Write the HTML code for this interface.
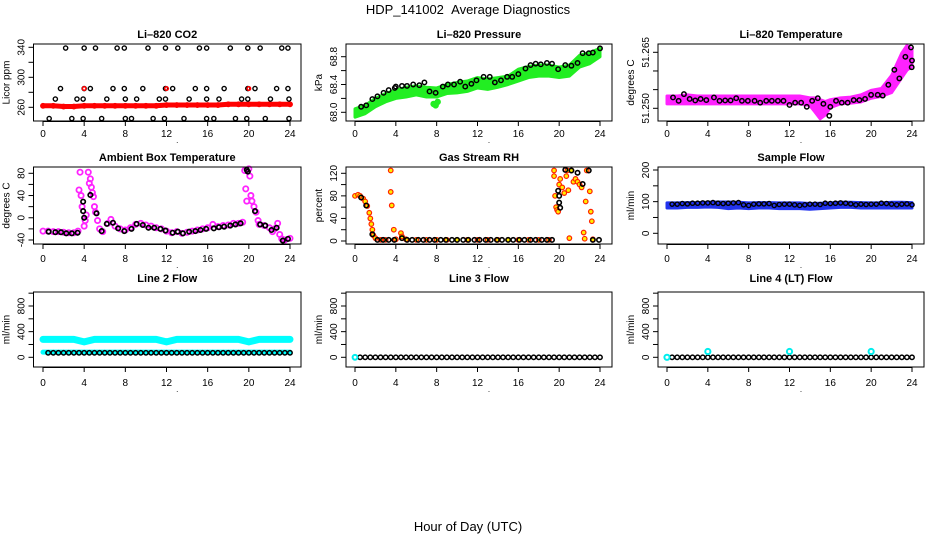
<!DOCTYPE html>
<html><head><meta charset="utf-8"><style>
html,body{margin:0;padding:0;background:#fff;}
svg{display:block;font-family:"Liberation Sans",Arial,sans-serif;}
</style></head><body>
<svg id="chart" width="936" height="540" viewBox="0 0 936 540">
<text x="468" y="14" text-anchor="middle" font-size="13">HDP_141002 &#160;Average Diagnostics</text>
<text x="468" y="531" text-anchor="middle" font-size="13">Hour of Day (UTC)</text>
</svg>
<script>
// ---------- data ----------
const xTicks=[0,4,8,12,16,20,24];
const hours48=[0.5,1,1.5,2,2.5,3,3.5,4,4.5,5,5.5,6,6.5,7,7.5,8,8.5,9,9.5,10,10.5,11,11.5,12,12.5,13,13.5,14,14.5,15,15.5,16,16.5,17,17.5,18,18.5,19,19.5,20,20.5,21,21.5,22,22.5,23,23.5,24];
const hours25=[0,1,2,3,4,5,6,7,8,9,10,11,12,13,14,15,16,17,18,19,20,21,22,23,24];
// CO2
const co2Red=[262,262,261,261,262,262,262,262,262,262,262,262,263,263,263,263,263,263,264,264,264,264,264,264,264];
const co2RedExtra=[[4,285],[12,285],[20,285]];
const co2Black=[[2.2,339],[4,339],[5.1,339],[7.2,339],[7.9,339],[10.2,339],[11.9,339],[13.1,339],[15.2,339],[15.9,339],[18.2,339],[19.9,339],[21.1,339],[23.2,339],[23.8,339],
[1.7,285],[4,285],[4.6,285],[6.8,285],[7.9,285],[9.7,285],[11.9,285],[12.6,285],[14.8,285],[15.9,285],[17.6,285],[19.9,285],[20.6,285],[22.7,285],[23.8,285],
[1.2,271],[3.3,271],[3.9,271],[6.2,271],[8,271],[9.1,271],[11.3,271],[11.9,271],[14.2,271],[15.9,271],[17.1,271],[19.3,271],[19.9,271],[22.1,271],[23.9,271],
[0.6,245],[2.8,245],[3.9,245],[5.7,245],[8,245],[8.6,245],[10.7,245],[11.8,245],[13.7,245],[15.9,245],[16.6,245],[18.7,245],[19.8,245],[21.6,245],[23.9,245]];
// Pressure
const presLo=[67.93,67.98,68.08,68.15,68.2,68.22,68.25,68.22,68.22,68.27,68.28,68.3,68.35,68.33,68.36,68.4,68.45,68.5,68.52,68.52,68.5,68.52,68.65,68.7,68.8];
const presHi=[68.05,68.1,68.2,68.27,68.32,68.36,68.38,68.36,68.35,68.4,68.43,68.45,68.5,68.48,68.5,68.52,68.62,68.66,68.68,68.68,68.65,68.68,68.82,68.86,68.92];
const presDip=[[7.7,68.12],[7.9,68.1],[8.1,68.15]];
const presBlack=[[0.6,68.08],[1.1,68.1],[1.7,68.19],[2.2,68.23],[2.8,68.28],[3.3,68.32],[3.9,68.35],[4,68.37],[4.6,68.38],[5.1,68.38],[5.7,68.4],[6.3,68.39],[6.8,68.43],[7.3,68.3],[7.9,68.28],[8.6,68.37],[9.1,68.4],[9.7,68.4],[10.3,68.44],[10.8,68.37],[11.4,68.41],[11.9,68.46],[12.6,68.51],[13.2,68.51],[13.7,68.43],[14.3,68.46],[14.9,68.51],[15.4,68.51],[16,68.55],[16.7,68.63],[17.2,68.68],[17.7,68.7],[18.2,68.69],[18.8,68.71],[19.3,68.7],[19.9,68.62],[20.6,68.68],[21.2,68.67],[21.8,68.71],[22.3,68.85],[22.9,68.85],[23.3,68.86],[24,68.92]];
// Li-820 temperature
const tHours=[0,1,2,3,4,5,6,7,8,9,10,11,12,13,14,14.5,15,15.5,16,17,18,19,20,21,22,23,23.5,24];
const tLo=[51.2512,51.2512,51.2512,51.2512,51.2512,51.2512,51.2512,51.2512,51.2512,51.2512,51.2512,51.2512,51.2512,51.2512,51.2507,51.2490,51.2472,51.2482,51.2502,51.2512,51.2514,51.2517,51.2527,51.2532,51.2542,51.2582,51.2602,51.2612];
const tHi=[51.2533,51.2533,51.2536,51.2533,51.2533,51.2533,51.2533,51.2533,51.2533,51.2533,51.2533,51.2533,51.2533,51.2533,51.2528,51.2528,51.2523,51.2518,51.2523,51.2528,51.2530,51.2536,51.2548,51.2553,51.2588,51.2648,51.2668,51.2658];
const tBlack=[[0.59,51.2529],[1.14,51.2520],[1.66,51.2538],[2.22,51.2525],[2.77,51.2521],[3.29,51.2525],[3.85,51.2522],[4.6,51.2529],[5.15,51.2520],[5.7,51.2521],[6.23,51.2521],[6.78,51.2527],[7.34,51.2520],[7.92,51.2520],[8.58,51.2520],[9.13,51.2515],[9.72,51.2520],[10.27,51.2520],[10.86,51.2520],[11.41,51.2520],[12,51.2509],[12.55,51.2515],[13.14,51.2515],[13.69,51.2504],[14.22,51.2520],[14.77,51.2527],[15.32,51.2512],[16,51.2504],[15.9,51.2480],[16.56,51.2520],[17.12,51.2515],[17.7,51.2515],[18.29,51.2522],[18.85,51.2522],[19.4,51.2525],[19.99,51.2536],[20.64,51.2536],[21.13,51.2534],[21.68,51.2563],[22.27,51.2603],[22.76,51.2580],[23.35,51.2638],[23.9,51.2663],[24,51.2628],[23.97,51.2610]];
// Ambient box temperature
const ambMag=[[0,-24],[0.5,-24],[1,-25],[1.5,-25],[2,-26],[2.5,-27],[3,-27],[3.4,-24],[3.5,50],[3.6,82],[3.7,40],[3.8,20],[4,-15],[4.1,-5],[4.2,5],[4.4,82],[4.5,62],[4.6,70],[4.7,55],[4.8,45],[4.9,38],[5,20],[5.1,10],[5.3,-5],[5.5,-20],[5.8,-25],[6.3,-10],[6.6,-3],[7,-15],[7.5,-20],[8,-22],[8.5,-18],[9,-12],[9.5,-10],[10,-13],[10.5,-15],[11,-18],[11.5,-20],[12,-24],[12.5,-27],[13,-25],[13.5,-28],[14,-26],[14.5,-24],[15,-22],[15.5,-20],[16,-18],[16.5,-12],[17,-16],[17.5,-14],[18,-13],[18.5,-10],[19,-10],[19.4,-8],[19.6,85],[19.7,52],[19.8,30],[20,88],[20.1,75],[20.2,40],[20.3,30],[20.5,20],[20.7,10],[20.9,-5],[21,-12],[21.5,-14],[22,-18],[22.3,-25],[22.5,-20],[22.8,-10],[23,-30],[23.2,-38],[23.5,-40],[24,-37]];
const ambBlack=[[0.55,-25],[1.2,-26],[1.75,-26],[2.26,-28],[2.8,-28],[3.36,-27],[3.9,29],[3.9,12],[4,0],[4.6,41],[5.2,8],[5.7,-24],[6.2,-11],[6.8,-9],[7.3,-19],[7.9,-24],[8.6,-20],[9.1,-11],[9.7,-13],[10.25,-18],[10.8,-18],[11.4,-20],[11.9,-23],[12.6,-27],[13.1,-25],[13.6,-28],[14.2,-25],[14.8,-24],[15.3,-22],[15.85,-20],[16.6,-19],[17.1,-17],[17.6,-16],[18.2,-14],[18.7,-12],[19.2,-10],[19.9,83],[19.8,86],[20.6,12],[21.1,-12],[21.6,-14],[22.2,-22],[22.7,-18],[23.3,-41],[23.8,-38]];
// Gas stream RH
const rhOrange=[[0,80],[0.3,82],[0.5,80],[0.8,75],[1,70],[1.2,62],[1.4,50],[1.5,40],[1.6,30],[1.7,20],[1.8,10],[2,5],[2.5,2],[3,2],[3.5,125],[3.5,87],[3.6,63],[3.8,20],[4,3],[4.5,14],[4.6,8],[5,3],[6,2],[7,2],[8,2],[9,2],[10,2],[11,2],[12,2],[13,2],[14,2],[15,2],[16,2],[17,2],[18,2],[19,2],[19.5,125],[19.5,115],[19.6,80],[19.7,60],[19.8,55],[19.9,52],[20,100],[20.1,110],[20.3,95],[20.5,85],[20.7,115],[20.8,125],[20.9,90],[21,5],[21.2,125],[21.4,105],[21.6,110],[21.8,105],[22,100],[22.2,95],[22.4,15],[22.5,4],[22.6,70],[22.7,125],[23,88],[23.1,52],[23.2,35],[23.3,3]];
const rhBlack=[[0.6,77],[1.1,63],[1.7,12],[2.2,2],[2.75,2],[3.3,2],[3.85,2],[4.6,5],[5.1,2],[5.6,2],[6.2,2],[6.7,2],[7.3,2],[7.8,2],[8.4,2],[8.9,2],[9.5,2],[10,2],[10.6,2],[11.1,2],[11.7,2],[12.2,2],[12.8,2],[13.3,2],[13.9,2],[14.4,2],[15,2],[15.5,2],[16.1,2],[16.6,2],[17.2,2],[17.7,2],[18.3,2],[18.8,2],[19.3,2],[19.9,89],[20,80],[20,68],[20.1,59],[20.6,126],[21.2,125],[21.8,121],[22.3,101],[22.9,125],[23.3,2],[23.9,2]];
// Sample flow
const sfLo=[80,80,82,82,83,82,78,80,78,80,80,78,78,78,76,78,80,82,82,80,80,80,80,80,80];
const sfHi=[96,96,97,97,98,99,99,98,96,97,97,96,96,96,94,95,96,98,98,97,96,96,98,98,97];
const sfBlack=[92,92,94,93,95,95,96,96,97,95,94,95,96,97,90,88,92,93,93,94,88,91,92,92,90,88,90,92,92,91,95,94,95,96,95,93,90,92,91,92,92,95,94,92,90,92,93,90];
// Line flows
const l2Upper=[280,280,280,280,240,280,280,280,280,280,280,280,240,280,280,280,280,280,280,280,240,280,280,280,280];
const l2Lower=[80,80,80,80,80,80,80,80,80,80,80,80,80,80,80,80,80,80,80,80,80,80,80,80,80];
const l2Black=[70,70,70,70,70,70,70,70,70,70,70,70,70,70,70,70,70,70,70,70,70,70,70,70,70,70,70,70,70,70,70,70,70,70,70,70,70,70,70,70,70,70,70,70,70,70,70,70];
const l3Black=[0,0,0,0,0,0,0,0,0,0,0,0,0,0,0,0,0,0,0,0,0,0,0,0,0,0,0,0,0,0,0,0,0,0,0,0,0,0,0,0,0,0,0,0,0,0,0,0];
const l3Cyan=[[0,0]];
const l4Cyan=[[0,0],[4,90],[12,90],[20,90]];

// ---------- layout ----------
const NS='http://www.w3.org/2000/svg';
const svg=document.getElementById('chart');
const cols=[{l:33.5,r:301,x0:43,x24:290},{l:346,r:612,x0:355,x24:600},{l:658,r:924,x0:667,x24:912}];
const rows=[{t:44,b:121,tl:137,tt:38},{t:167,b:244,tl:262,tt:161},{t:292,b:367,tl:386,tt:282}];
function mk(tag,attrs,parent){const e=document.createElementNS(NS,tag);for(const k in attrs)e.setAttribute(k,attrs[k]);(parent||svg).appendChild(e);return e;}
function panel(c,r,title,ylab,ym,yticks,ylabels,fmt,name){
  const C=cols[c],R=rows[r];
  const sx=h=>C.x0+(h/24)*(C.x24-C.x0);
  const sy=v=>ym[1]+(v-ym[0])*(ym[3]-ym[1])/(ym[2]-ym[0]);
  const g=mk('g',{});
  
  
  const data=mk('g',{},g);
  
  
  const box=mk('rect',{x:C.l,y:R.t,width:C.r-C.l,height:R.b-R.t,fill:'none',stroke:'#000','stroke-width':1},g);
  
  
  const t=mk('text',{x:(C.l+C.r)/2,y:R.tt,'text-anchor':'middle','font-size':11,'font-weight':'bold'},g);t.textContent=title;
  
  
  const xa=mk('g',{},g);
  
  
  mk('line',{x1:sx(0),x2:sx(24),y1:R.b+0.5,y2:R.b+0.5,stroke:'#000'},xa);
  xTicks.forEach(v=>{mk('line',{x1:sx(v),x2:sx(v),y1:R.b,y2:R.b+5,stroke:'#000'},xa);
    const l=mk('text',{x:sx(v),y:R.tl,'text-anchor':'middle','font-size':10},xa);l.textContent=v;});
  const dot=mk('text',{x:(C.l+C.r)/2+10,y:R.tl+6,'font-size':8,'text-anchor':'middle'},g);dot.textContent='.';
  const ya=mk('g',{},g);
  
  
  mk('line',{x1:C.l,x2:C.l,y1:sy(yticks[0]),y2:sy(yticks[yticks.length-1]),stroke:'#000'},ya);
  yticks.forEach(v=>mk('line',{x1:C.l-5,x2:C.l,y1:sy(v),y2:sy(v),stroke:'#000'},ya));
  ylabels.forEach(v=>{const x=C.l-9,y=sy(v);const l=mk('text',{x:x,y:y,'text-anchor':'middle','font-size':10,transform:`rotate(-90 ${x} ${y})`},ya);l.textContent=fmt(v);});
  const yl=mk('text',{x:C.l-24,y:(R.t+R.b)/2,'text-anchor':'middle','font-size':10,transform:`rotate(-90 ${C.l-24} ${(R.t+R.b)/2})`},g);yl.textContent=ylab;
  
  
  return {sx,sy,g:data};
}
function pts(P,arr,color,fill,r,sw,nm){arr.forEach(p=>{const e=mk('circle',{cx:P.sx(p[0]),cy:P.sy(p[1]),r:r,fill:fill,stroke:color,'stroke-width':sw},P.g);
  
  });}
function band(P,hs,lo,hi,color,nm){let d='M'+hs.map((h,i)=>P.sx(h)+','+P.sy(hi[i])).join('L');
  for(let i=hs.length-1;i>=0;i--)d+='L'+P.sx(hs[i])+','+P.sy(lo[i]);
  const e=mk('path',{d:d+'Z',fill:color,stroke:color,'stroke-width':3,'stroke-linejoin':'round'},P.g);
  
  }
function line(P,hs,vals,color,w,nm){const e=mk('polyline',{points:hs.map((h,i)=>P.sx(h)+','+P.sy(vals[i])).join(' '),fill:'none',stroke:color,'stroke-width':w,'stroke-linecap':'round','stroke-linejoin':'round'},P.g);
  
  }
const zip=(h,v)=>h.map((x,i)=>[x,v[i]]);
const f0=v=>String(v);

// ---------- panels ----------
let P=panel(0,0,'Li–820 CO2','Licor ppm',[260,107.3,340,47.3],[260,280,300,320,340],[260,300,340],f0,'co2');
line(P,hours25,co2Red,'#ff0000',5,'co2-red-band');
pts(P,zip(hours25,co2Red),'#ff0000','none',2.2,1.5,'co2-red-point');
pts(P,co2Black,'#000','none',2.1,1.4,'co2-black-point');
pts(P,co2RedExtra,'#ff0000','none',1.8,1.5,'co2-red-extra');

P=panel(1,0,'Li–820 Pressure','kPa',[68.0,112.3,68.8,56.7],[68.0,68.2,68.4,68.6,68.8],[68.0,68.4,68.8],v=>v.toFixed(1),'pressure');
band(P,hours25,presLo,presHi,'#22ee22','pressure-green-band');
pts(P,presDip,'#22ee22','#22ee22',2.5,1.5,'pressure-green-dip');
pts(P,presBlack,'#000','none',2.2,1.5,'pressure-black-point');

P=panel(2,0,'Li–820 Temperature','degrees C',[51.25,108.3,51.265,52.3],[51.25,51.255,51.26,51.265],[51.25,51.265],v=>v.toFixed(3),'li820-temp');
band(P,tHours,tLo,tHi,'#ff22ff','temp-magenta-band');
pts(P,tBlack,'#000','none',2.2,1.5,'temp-black-point');

P=panel(0,1,'Ambient Box Temperature','degrees C',[-40,240,80,173.3],[-40,-20,0,20,40,60,80],[-40,0,40,80],f0,'ambient');
pts(P,ambMag,'#ff22ff','none',2.6,1.8,'ambient-magenta-point');
pts(P,ambBlack,'#000','none',2.2,1.7,'ambient-black-point');

P=panel(1,1,'Gas Stream RH','percent',[0,241,120,173.3],[0,20,40,60,80,100,120],[0,40,80,120],f0,'rh');
pts(P,rhOrange,'#ff2200','#ffee00',2.3,1.2,'rh-orange-point');
pts(P,rhBlack,'#000','none',2.2,1.6,'rh-black-point');

P=panel(2,1,'Sample Flow','ml/min',[0,233.3,200,170],[0,50,100,150,200],[0,100,200],f0,'sample-flow');
band(P,hours25,sfLo,sfHi,'#2233ee','sample-flow-blue-band');
pts(P,zip(hours48,sfBlack),'#000','none',2.1,1.4,'sample-flow-black-point');

const l3t=[0,200,400,600,800,1000],l3l=[0,400,800];
P=panel(0,2,'Line 2 Flow','ml/min',[0,357.3,800,306],l3t,l3l,f0,'line2');
line(P,hours25,l2Upper,'#00ffff',7,'line2-upper-cyan');
line(P,hours25,l2Lower,'#00ffff',5,'line2-lower-cyan');
pts(P,zip(hours48,l2Black),'#000','none',2.2,1.5,'line2-black-point');

P=panel(1,2,'Line 3 Flow','ml/min',[0,357.3,800,306],l3t,l3l,f0,'line3');
pts(P,zip(hours48,l3Black),'#000','none',2.2,1.5,'line3-black-point');
pts(P,l3Cyan,'#00eeee','none',2.4,2,'line3-cyan-point');

P=panel(2,2,'Line 4 (LT) Flow','ml/min',[0,357.3,800,306],l3t,l3l,f0,'line4');
pts(P,zip(hours48,l3Black),'#000','none',2.2,1.5,'line4-black-point');
pts(P,l4Cyan,'#00eeee','none',2.6,2,'line4-cyan-point');
</script>
</body></html>
